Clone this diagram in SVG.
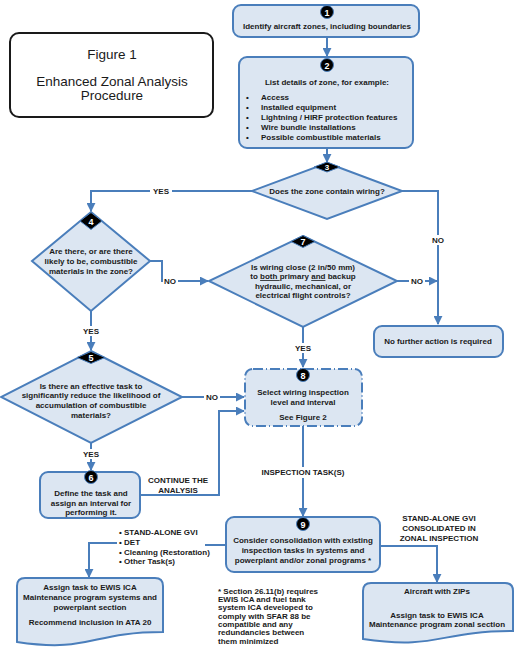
<svg xmlns="http://www.w3.org/2000/svg" width="521" height="654" viewBox="0 0 521 654">
<defs>
<style>
.box{fill:#dce6f2;stroke:#4a7ebb;stroke-width:2}
.t{font-family:"Liberation Sans",Arial,sans-serif;font-weight:bold;font-size:8px;fill:#1a1a1a;text-anchor:middle}
.tl{font-family:"Liberation Sans",Arial,sans-serif;font-weight:bold;font-size:8px;fill:#1a1a1a;text-anchor:start}
.title{font-family:"Liberation Sans",Arial,sans-serif;font-size:13.5px;fill:#1a1a1a;text-anchor:middle}
.conn{fill:none;stroke:#4a7ebb;stroke-width:2}
.badge{fill:#000;stroke:#4a7ebb;stroke-width:1}
.bn{font-family:"Liberation Sans",Arial,sans-serif;font-weight:bold;font-size:9px;fill:#fff;text-anchor:middle}
.bg{fill:#fff}
</style>
<marker id="ah" viewBox="0 0 10 10" refX="9" refY="5" markerWidth="4.5" markerHeight="4.5" orient="auto" markerUnits="strokeWidth">
<path d="M0,0 L10,5 L0,10 Z" fill="#4a7ebb"/>
</marker>
</defs>
<rect width="521" height="654" fill="#fff"/>

<g id="title">
<rect x="10" y="33" width="203" height="84" rx="9" fill="#fff" stroke="#1a1a1a" stroke-width="2"/>
<text class="title" x="112" y="59">Figure 1</text>
<text class="title" x="112" y="86">Enhanced Zonal Analysis</text>
<text class="title" x="112" y="100">Procedure</text>
</g>

<g id="connectors">
<path class="conn" d="M327,37 V56" marker-end="url(#ah)"/>
<path class="conn" d="M327,148 V162" marker-end="url(#ah)"/>
<path class="conn" d="M252,191 H91 V211" marker-end="url(#ah)"/>
<path class="conn" d="M402,191 H438 V324" marker-end="url(#ah)"/>
<path class="conn" d="M150,261 H162 V281 H208" marker-end="url(#ah)"/>
<path class="conn" d="M397,281 H437" marker-end="url(#ah)"/>
<path class="conn" d="M303,327 V367" marker-end="url(#ah)"/>
<path class="conn" d="M91,311 V350" marker-end="url(#ah)"/>
<path class="conn" d="M182,397 H244" marker-end="url(#ah)"/>
<path class="conn" d="M91,443 V470" marker-end="url(#ah)"/>
<path class="conn" d="M140,495 H219 V411 H244" marker-end="url(#ah)"/>
<path class="conn" d="M303,426 V516" marker-end="url(#ah)"/>
<path class="conn" d="M380,546 H437 V582" marker-end="url(#ah)"/>
<path class="conn" d="M226,545 H205"/>
<path class="conn" d="M117,543 H89 V577" marker-end="url(#ah)"/>
<rect class="bg" x="150" y="186" width="22" height="10"/>
<text class="t" x="161" y="194">YES</text>
<rect class="bg" x="429" y="235" width="18" height="10"/>
<text class="t" x="438" y="243">NO</text>
<rect class="bg" x="163" y="276" width="15" height="10"/>
<text class="t" x="170" y="284">NO</text>
<rect class="bg" x="409" y="276" width="16" height="10"/>
<text class="t" x="417" y="284">NO</text>
<rect class="bg" x="292" y="343" width="22" height="10"/>
<text class="t" x="303" y="351">YES</text>
<rect class="bg" x="80" y="326" width="22" height="10"/>
<text class="t" x="91" y="334">YES</text>
<rect class="bg" x="204" y="392" width="16" height="10"/>
<text class="t" x="212" y="400">NO</text>
<rect class="bg" x="80" y="449" width="22" height="10"/>
<text class="t" x="91" y="457">YES</text>
<text class="t" x="178" y="483">CONTINUE THE</text>
<text class="t" x="178" y="493">ANALYSIS</text>
<rect class="bg" x="258" y="467" width="90" height="11"/>
<text class="t" x="303" y="475">INSPECTION TASK(S)</text>
<text class="t" x="439" y="521">STAND-ALONE GVI</text>
<text class="t" x="439" y="531">CONSOLIDATED IN</text>
<text class="t" x="439" y="541">ZONAL INSPECTION</text>
<text class="tl" x="119" y="535">• STAND-ALONE GVI</text>
<text class="tl" x="119" y="545">• DET</text>
<text class="tl" x="119" y="555">• Cleaning (Restoration)</text>
<text class="tl" x="119" y="564">• Other Task(s)</text>
</g>

<g id="n1">
<rect class="box" x="233" y="5" width="186" height="32" rx="8"/>
<circle class="badge" cx="327" cy="12" r="6.5"/>
<text class="bn" x="327" y="15.5">1</text>
<text class="t" x="327" y="29">Identify aircraft zones, including boundaries</text>
</g>

<g id="n2">
<rect class="box" x="239" y="57" width="174" height="91" rx="8"/>
<circle class="badge" cx="327" cy="65" r="6.5"/>
<text class="bn" x="327" y="68.5">2</text>
<text class="t" x="327" y="85">List details of zone, for example:</text>
<text class="tl" x="246" y="100">•</text><text class="tl" x="261" y="100">Access</text>
<text class="tl" x="246" y="110">•</text><text class="tl" x="261" y="110">Installed equipment</text>
<text class="tl" x="246" y="120">•</text><text class="tl" x="261" y="120">Lightning / HIRF protection features</text>
<text class="tl" x="246" y="130">•</text><text class="tl" x="261" y="130">Wire bundle installations</text>
<text class="tl" x="246" y="140">•</text><text class="tl" x="261" y="140">Possible combustible materials</text>
</g>

<g id="n3">
<polygon class="box" points="327,163 402,191 327,219 252,191"/>
<polygon class="badge" points="314,167 327,162 340,167 327,172"/>
<text class="bn" x="327" y="170" style="font-size:8px">3</text>
<text class="t" x="327" y="194">Does the zone contain wiring?</text>
</g>

<g id="n4">
<polygon class="box" points="91,212 150,261 91,311 32,261"/>
<polygon class="badge" points="80,221 91,212.5 102,221 91,229.5"/>
<text class="bn" x="91" y="224.5">4</text>
<text class="t" x="91" y="254">Are there, or are there</text>
<text class="t" x="91" y="264">likely to be, combustible</text>
<text class="t" x="91" y="274">materials in the zone?</text>
</g>

<g id="n7">
<polygon class="box" points="303,236 397,281 303,327 209,281"/>
<polygon class="badge" points="291,241.5 303,235.5 315,241.5 303,247.5"/>
<text class="bn" x="303" y="245">7</text>
<text class="t" x="303" y="270">Is wiring close (2 in/50 mm)</text>
<text class="t" x="303" y="279">to <tspan text-decoration="underline">both </tspan>primary <tspan text-decoration="underline">and</tspan> backup</text>
<text class="t" x="303" y="289">hydraulic, mechanical, or</text>
<text class="t" x="303" y="298">electrical flight controls?</text>
</g>

<g id="nEnd">
<rect class="box" x="374" y="326" width="129" height="31" rx="8"/>
<text class="t" x="438" y="344">No further action is required</text>
</g>

<g id="n5">
<polygon class="box" points="91,351 182,397 91,443 1,397"/>
<polygon class="badge" points="77,357.5 91,351.5 105,357.5 91,363.5"/>
<text class="bn" x="91" y="361">5</text>
<text class="t" x="91" y="389">Is there an effective task to</text>
<text class="t" x="91" y="398">significantly reduce the likelihood of</text>
<text class="t" x="91" y="408">accumulation of combustible</text>
<text class="t" x="91" y="418">materials?</text>
</g>

<g id="n8">
<rect x="245" y="369" width="117" height="57" rx="8" fill="#dce6f2" stroke="#4a7ebb" stroke-width="2" stroke-dasharray="10 3 1 3"/>
<circle class="badge" cx="303" cy="375" r="6.5"/>
<text class="bn" x="303" y="378.5">8</text>
<text class="t" x="303" y="395">Select wiring inspection</text>
<text class="t" x="303" y="405">level and interval</text>
<text class="t" x="303" y="420">See Figure 2</text>
</g>

<g id="n6">
<rect class="box" x="40" y="472" width="100" height="46" rx="8"/>
<circle class="badge" cx="91" cy="477" r="6.5"/>
<text class="bn" x="91" y="480.5">6</text>
<text class="t" x="91" y="496">Define the task and</text>
<text class="t" x="91" y="506">assign an interval for</text>
<text class="t" x="91" y="515">performing it.</text>
</g>

<g id="n9">
<rect class="box" x="226" y="517" width="154" height="55" rx="8"/>
<circle class="badge" cx="303" cy="524" r="6.5"/>
<text class="bn" x="303" y="527.5">9</text>
<text class="t" x="303" y="543">Consider consolidation with existing</text>
<text class="t" x="303" y="553">inspection tasks in systems and</text>
<text class="t" x="303" y="563">powerplant and/or zonal programs *</text>
</g>

<g id="nSys">
<path class="box" d="M17,586 Q17,578 25,578 H155 Q163,578 163,586 V632 C90,632 90,653 17,642 Z"/>
<text class="t" x="90" y="590">Assign task to EWIS ICA</text>
<text class="t" x="90" y="600">Maintenance program systems and</text>
<text class="t" x="90" y="610">powerplant section</text>
<text class="t" x="90" y="625">Recommend inclusion in ATA 20</text>
</g>

<g id="nZonal">
<path class="box" d="M363,591 Q363,583 371,583 H505 Q513,583 513,591 V631 C438,631 438,650 363,639 Z"/>
<text class="t" x="437" y="594">Aircraft with ZIPs</text>
<text class="t" x="437" y="618">Assign task to EWIS ICA</text>
<text class="t" x="437" y="627">Maintenance program zonal section</text>
</g>

<g id="note">
<text class="tl" x="218" y="594">* Section 26.11(b) requires</text>
<text class="tl" x="218" y="602">EWIS ICA and fuel tank</text>
<text class="tl" x="218" y="610">system ICA developed to</text>
<text class="tl" x="218" y="619">comply with SFAR 88 be</text>
<text class="tl" x="218" y="627">compatible and any</text>
<text class="tl" x="218" y="635">redundancies between</text>
<text class="tl" x="218" y="644">them minimized</text>
</g>
</svg>
